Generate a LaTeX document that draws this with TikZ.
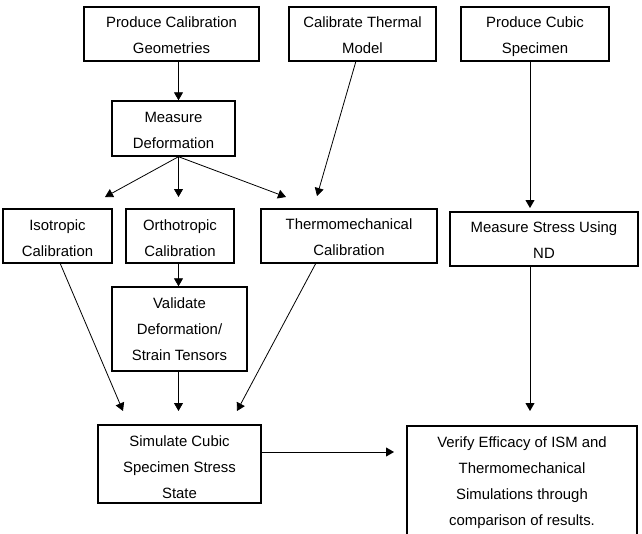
\documentclass[tikz,border=0pt]{standalone}
\usepackage{fontspec}
\setmainfont{Liberation Sans}
\usetikzlibrary{arrows.meta}
\begin{document}
\begin{tikzpicture}[x=1pt,y=-1pt,
  box/.style={draw, line width=1.4pt, inner sep=0pt},
  txt/.style={align=center, inner sep=0pt, text depth=3pt,
    font=\fontsize{14.9}{26}\selectfont},
  arr/.style={line width=0.8pt, -{Triangle[length=8pt,width=9pt]}},
]
\useasboundingbox (0,0) rectangle (642,533);
\node[box, minimum width=175pt, minimum height=54pt] (b1) at (171.5,34) {};
\node[txt, yshift=-3pt] (b1t) at (b1) {Produce Calibration\\Geometries};
\node[box, minimum width=147pt, minimum height=54pt] (b2) at (362.5,34) {};
\node[txt, yshift=-3pt] (b2t) at (b2) {Calibrate Thermal\\Model};
\node[box, minimum width=148pt, minimum height=54pt] (b3) at (535,34) {};
\node[txt, yshift=-3pt] (b3t) at (b3) {Produce Cubic\\Specimen};
\node[box, minimum width=123pt, minimum height=55pt] (b4) at (173.5,128.5) {};
\node[txt, yshift=-3pt] (b4t) at (b4) {Measure\\Deformation};
\node[box, minimum width=109pt, minimum height=54pt] (b5) at (57.5,236) {};
\node[txt, yshift=-3.5pt] (b5t) at (b5) {Isotropic\\Calibration};
\node[box, minimum width=108pt, minimum height=54pt] (b6) at (180,236) {};
\node[txt, yshift=-3.5pt] (b6t) at (b6) {Orthotropic\\Calibration};
\node[box, minimum width=176pt, minimum height=54pt] (b7) at (349,236) {};
\node[txt, yshift=-3pt] (b7t) at (b7) {Thermomechanical\\Calibration};
\node[box, minimum width=188pt, minimum height=54pt] (b8) at (544,239) {};
\node[txt, yshift=-3pt] (b8t) at (b8) {Measure Stress Using\\ND};
\node[box, minimum width=135pt, minimum height=84pt] (b9) at (179.5,329) {};
\node[txt, yshift=-2pt] (b9t) at (b9) {Validate\\Deformation/\\Strain Tensors};
\node[box, minimum width=163pt, minimum height=78pt] (b10) at (179.5,464) {};
\node[txt, yshift=-5pt] (b10t) at (b10) {Simulate Cubic\\Specimen Stress\\State};
\node[box, minimum width=230pt, minimum height=110pt] (b11) at (522,481) {};
\node[txt, yshift=-1.5pt] (b11t) at (b11) {Verify Efficacy of ISM and\\Thermomechanical\\Simulations through\\comparison of results.};

\coordinate (cx) at (178.5,0);
\coordinate (rx) at (530,0);
\coordinate (t5) at (105,197);
\coordinate (t6) at (178.5,197);
\coordinate (t7a) at (286,197);
\coordinate (t7b) at (317,196);
\coordinate (t8) at (530,208);
\coordinate (s2) at (356,61);
\coordinate (s5) at (60,263);
\coordinate (s7) at (316,263);
\coordinate (u1) at (123,411);
\coordinate (u2) at (178.5,411);
\coordinate (u3) at (237,411);
\coordinate (u4) at (530,411);
\coordinate (u5) at (394,452);
\coordinate (s10) at (261,452);

\draw[arr] (b1.south -| cx) -- (b4.north -| cx);
\draw[arr] (b4.south -| cx) -- (t5);
\draw[arr] (b4.south -| cx) -- (t6);
\draw[arr] (b4.south -| cx) -- (t7a);
\draw[arr] (s2) -- (t7b);
\draw[arr] (b3.south -| rx) -- (t8);
\draw[arr] (b6.south -| cx) -- (b9.north -| cx);
\draw[arr] (s5) -- (u1);
\draw[arr] (b9.south -| cx) -- (u2);
\draw[arr] (s7) -- (u3);
\draw[arr] (b8.south -| rx) -- (u4);
\draw[arr] (s10) -- (u5);
\end{tikzpicture}
\end{document}
